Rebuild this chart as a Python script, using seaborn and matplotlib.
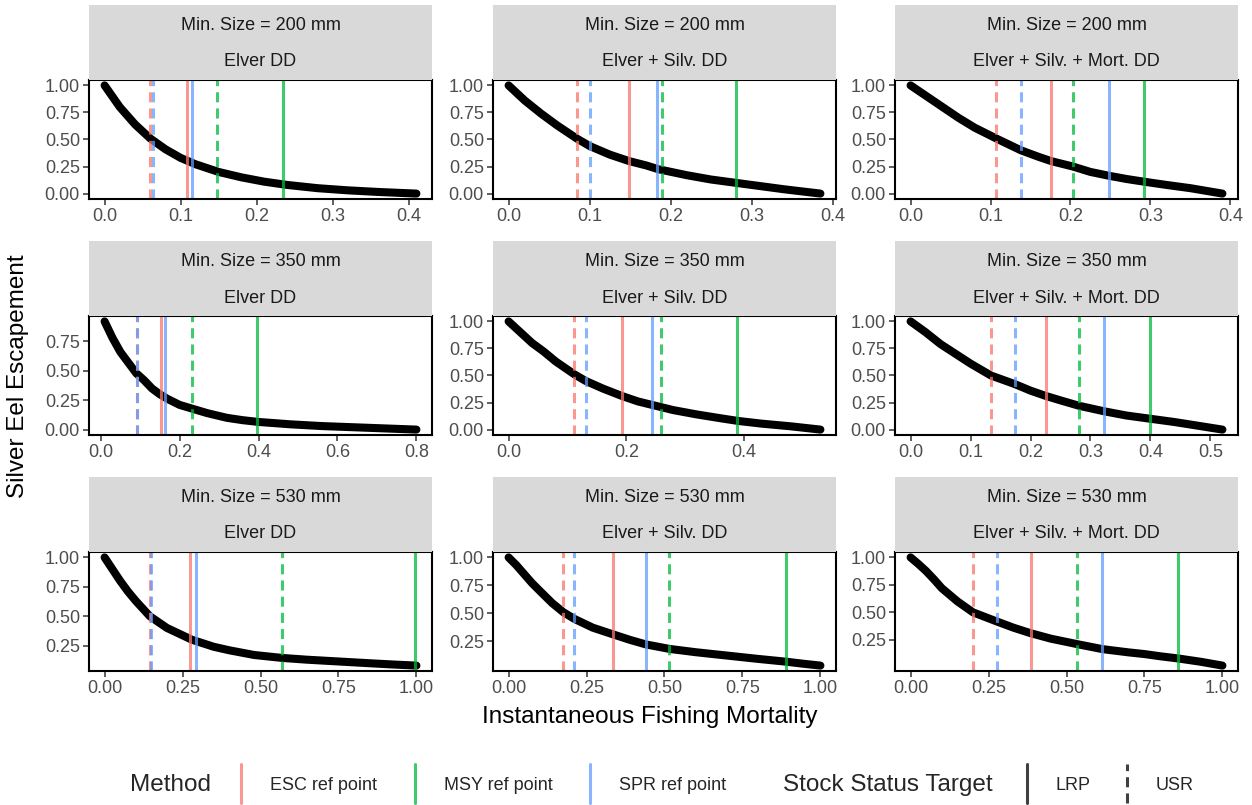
import numpy as np
import pandas as pd
import matplotlib
matplotlib.use("Agg")
import matplotlib.pyplot as plt
import seaborn as sns
from matplotlib.lines import Line2D
from matplotlib.legend_handler import HandlerBase

# panel order: 200/350/530 mm rows x three density dependence models
sizes = ["200", "350", "530"]
models = ["Elver DD", "Elver + Silv. DD", "Elver + Silv. + Mort. DD"]
methods = ["ESC ref point", "MSY ref point", "SPR ref point"]
targets = ["LRP", "USR"]

# escapement curves
F_200_E = [0, 0.02, 0.04, 0.06, 0.08, 0.10, 0.12, 0.15, 0.18, 0.21, 0.24, 0.28, 0.32, 0.36, 0.41]
S_200_E = [1.0, 0.80, 0.64, 0.51, 0.41, 0.33, 0.27, 0.20, 0.15, 0.11, 0.08, 0.05, 0.03, 0.015, 0.0]
F_200_ES = [0, 0.02, 0.04, 0.06, 0.084, 0.10, 0.125, 0.149, 0.17, 0.185, 0.22, 0.25, 0.28, 0.31, 0.34, 0.385]
S_200_ES = [1.0, 0.86, 0.74, 0.63, 0.51, 0.44, 0.36, 0.30, 0.26, 0.225, 0.17, 0.13, 0.10, 0.07, 0.04, 0.0]
F_200_ESM = [0, 0.02, 0.04, 0.06, 0.08, 0.107, 0.138, 0.16, 0.176, 0.203, 0.225, 0.248, 0.27, 0.292, 0.32, 0.35, 0.39]
S_200_ESM = [1.0, 0.90, 0.80, 0.70, 0.61, 0.51, 0.40, 0.34, 0.30, 0.25, 0.20, 0.165, 0.135, 0.11, 0.08, 0.05, 0.0]
F_350_E = [0.01, 0.03, 0.05, 0.07, 0.09, 0.11, 0.13, 0.15, 0.17, 0.20, 0.23, 0.27, 0.32, 0.36, 0.40, 0.48, 0.56, 0.64, 0.72, 0.80]
S_350_E = [0.92, 0.78, 0.66, 0.57, 0.48, 0.42, 0.35, 0.30, 0.26, 0.21, 0.18, 0.14, 0.10, 0.08, 0.065, 0.045, 0.03, 0.02, 0.01, 0.0]
F_350_ES = [0, 0.02, 0.04, 0.06, 0.08, 0.112, 0.131, 0.16, 0.193, 0.22, 0.25, 0.28, 0.32, 0.36, 0.39, 0.43, 0.48, 0.53]
S_350_ES = [1.0, 0.90, 0.80, 0.72, 0.63, 0.51, 0.45, 0.38, 0.31, 0.26, 0.22, 0.18, 0.14, 0.105, 0.08, 0.055, 0.03, 0.0]
F_350_ESM = [0, 0.025, 0.05, 0.075, 0.10, 0.134, 0.174, 0.20, 0.226, 0.25, 0.281, 0.322, 0.36, 0.40, 0.44, 0.48, 0.52]
S_350_ESM = [1.0, 0.90, 0.79, 0.70, 0.61, 0.50, 0.42, 0.36, 0.31, 0.27, 0.22, 0.17, 0.13, 0.10, 0.07, 0.035, 0.0]
F_530_E = [0, 0.025, 0.05, 0.075, 0.10, 0.145, 0.20, 0.28, 0.35, 0.40, 0.48, 0.57, 0.65, 0.75, 0.85, 0.92, 1.0]
S_530_E = [1.0, 0.90, 0.80, 0.71, 0.63, 0.50, 0.40, 0.30, 0.24, 0.21, 0.17, 0.145, 0.13, 0.115, 0.10, 0.09, 0.08]
F_530_ES = [0, 0.025, 0.05, 0.075, 0.10, 0.14, 0.175, 0.21, 0.27, 0.335, 0.39, 0.44, 0.515, 0.60, 0.70, 0.80, 0.89, 0.95, 1.0]
S_530_ES = [1.0, 0.93, 0.85, 0.77, 0.70, 0.59, 0.51, 0.45, 0.37, 0.31, 0.26, 0.22, 0.18, 0.15, 0.12, 0.09, 0.065, 0.045, 0.03]
F_530_ESM = [0, 0.025, 0.05, 0.075, 0.10, 0.15, 0.20, 0.278, 0.33, 0.385, 0.45, 0.535, 0.615, 0.70, 0.75, 0.80, 0.858, 0.93, 1.0]
S_530_ESM = [1.0, 0.94, 0.875, 0.80, 0.72, 0.60, 0.50, 0.415, 0.36, 0.31, 0.26, 0.21, 0.165, 0.135, 0.12, 0.10, 0.08, 0.05, 0.015]

curves_F = [F_200_E, F_200_ES, F_200_ESM, F_350_E, F_350_ES, F_350_ESM, F_530_E, F_530_ES, F_530_ESM]
curves_S = [S_200_E, S_200_ES, S_200_ESM, S_350_E, S_350_ES, S_350_ESM, S_530_E, S_530_ES, S_530_ESM]

# reference points (fishing mortality) per panel
lrp_esc = [0.108, 0.149, 0.176, 0.153, 0.193, 0.226, 0.275, 0.335, 0.385]
lrp_msy = [0.234, 0.281, 0.292, 0.397, 0.388, 0.399, 0.997, 0.890, 0.858]
lrp_spr = [0.115, 0.183, 0.248, 0.164, 0.243, 0.322, 0.294, 0.440, 0.615]
usr_esc = [0.060, 0.084, 0.107, 0.091, 0.112, 0.134, 0.145, 0.175, 0.200]
usr_msy = [0.148, 0.190, 0.203, 0.231, 0.259, 0.281, 0.570, 0.515, 0.535]
usr_spr = [0.063, 0.101, 0.138, 0.092, 0.131, 0.174, 0.150, 0.210, 0.278]

# x tick labels per panel
xticks = [
    [0.0, 0.1, 0.2, 0.3, 0.4], [0.0, 0.1, 0.2, 0.3, 0.4], [0.0, 0.1, 0.2, 0.3, 0.4],
    [0.0, 0.2, 0.4, 0.6, 0.8], [0.0, 0.2, 0.4], [0.0, 0.1, 0.2, 0.3, 0.4, 0.5],
    [0.0, 0.25, 0.5, 0.75, 1.0], [0.0, 0.25, 0.5, 0.75, 1.0], [0.0, 0.25, 0.5, 0.75, 1.0],
]
yticks = [0.0, 0.25, 0.5, 0.75, 1.0]

rows = []
for i in range(9):
    for f, s in zip(curves_F[i], curves_S[i]):
        rows.append({"panel": i, "F": f, "esc": s})
curve_df = pd.DataFrame(rows)

refs = []
for i in range(9):
    for m, lv, uv in zip(methods, [lrp_esc, lrp_msy, lrp_spr], [usr_esc, usr_msy, usr_spr]):
        refs.append({"panel": i, "method": m, "target": "LRP", "F": lv[i]})
        refs.append({"panel": i, "method": m, "target": "USR", "F": uv[i]})
ref_df = pd.DataFrame(refs)

colors = {"ESC ref point": "#F8766D", "MSY ref point": "#00BA38", "SPR ref point": "#619CFF"}
dash = (0, (3.3, 2.0))
styles = {"LRP": "-", "USR": dash}
vlw = 2.2
valpha = 0.75

sns.set_theme(style="white")
plt.rcParams["font.family"] = ["Liberation Sans", "DejaVu Sans"]

W, H = 1252, 805
fig = plt.figure(figsize=(W / 100, H / 100), dpi=100)

col_left = [89, 493, 895]
row_top = [80, 316, 552]
pw, ph = 343, 119
strip_h = 75
small = 13
big = 17.5


def fmt(v, nd):
    return f"{v:.{nd}f}"


for i in range(9):
    r, c = divmod(i, 3)
    ax = fig.add_axes([col_left[c] / W, 1 - (row_top[r] + ph) / H, pw / W, ph / H])
    sax = fig.add_axes([col_left[c] / W, 1 - row_top[r] / H, pw / W, strip_h / H])
    sax.set_facecolor("#D9D9D9")
    for sp in sax.spines.values():
        sp.set_visible(False)
    sax.set_xticks([])
    sax.set_yticks([])
    sax.text(0.5, 0.73, f"Min. Size = {sizes[r]} mm", ha="center", va="center",
             fontsize=small, color="#1A1A1A", transform=sax.transAxes)
    sax.text(0.5, 0.24, models[c], ha="center", va="center",
             fontsize=small, color="#1A1A1A", transform=sax.transAxes)

    d = curve_df[curve_df.panel == i]
    sns.lineplot(data=d, x="F", y="esc", ax=ax, color="black", linewidth=5.8,
                 sort=False, estimator=None, solid_capstyle="round")
    rd = ref_df[ref_df.panel == i]
    for m in methods:
        for t in targets:
            v = rd[(rd.method == m) & (rd.target == t)].F.iloc[0]
            ax.axvline(v, color=colors[m], lw=vlw, ls=styles[t], alpha=valpha)

    xs = list(d.F) + list(rd.F)
    x0, x1 = min(xs), max(xs)
    ax.set_xlim(x0 - 0.05 * (x1 - x0), x1 + 0.05 * (x1 - x0))
    y0, y1 = d.esc.min(), d.esc.max()
    ax.set_ylim(y0 - 0.05 * (y1 - y0), y1 + 0.05 * (y1 - y0))

    nd = 2 if r == 2 else 1
    ax.set_xticks(xticks[i])
    ax.set_xticklabels([fmt(v, nd) for v in xticks[i]])
    yt = [v for v in yticks if y0 - 1e-9 <= v <= y1 + 1e-9]
    ax.set_yticks(yt)
    ax.set_yticklabels([fmt(v, 2) for v in yt])
    ax.tick_params(axis="both", which="major", length=4, width=1.1, color="#333333",
                   labelsize=small, labelcolor="#4D4D4D", pad=2.5, bottom=True, left=True)
    ax.set_xlabel("")
    ax.set_ylabel("")
    ax.set_facecolor("white")
    for sp in ax.spines.values():
        sp.set_color("black")
        sp.set_linewidth(1.5)

fig.text(650 / W, 1 - 717 / H, "Instantaneous Fishing Mortality", ha="center", va="center",
         fontsize=big, color="black")
fig.text(18 / W, 1 - 376 / H, "Silver Eel Escapement", ha="center", va="center",
         rotation=90, fontsize=big, color="black")


class VLineHandler(HandlerBase):
    def create_artists(self, legend, orig, xdescent, ydescent, width, height, fontsize, trans):
        x = width / 2 - xdescent
        ln = Line2D([x, x], [-ydescent - 1.05 * height, -ydescent + 2.05 * height])
        ln.update_from(orig)
        ln.set_transform(trans)
        return [ln]


mh = [Line2D([], [], color=colors[m], lw=vlw, alpha=valpha) for m in methods]
th = [Line2D([], [], color="black", lw=vlw, alpha=valpha, ls=styles[t]) for t in targets]
hmap = {Line2D: VLineHandler()}

fig.text(130 / W, 1 - 785 / H, "Method", ha="left", va="center", fontsize=big)
leg1 = fig.legend(mh, methods, loc="center left", bbox_to_anchor=(230 / W, 1 - 785 / H),
                  ncol=3, frameon=False, fontsize=small, handlelength=1.2, handletextpad=1.0,
                  columnspacing=1.5, handler_map=hmap, borderaxespad=0, borderpad=0)
fig.text(783 / W, 1 - 785 / H, "Stock Status Target", ha="left", va="center", fontsize=big)
leg2 = fig.legend(th, targets, loc="center left", bbox_to_anchor=(1016 / W, 1 - 785 / H),
                  ncol=2, frameon=False, fontsize=small, handlelength=1.2, handletextpad=1.0,
                  columnspacing=1.4, handler_map=hmap, borderaxespad=0, borderpad=0)

fig.savefig("out.png", dpi=100)
